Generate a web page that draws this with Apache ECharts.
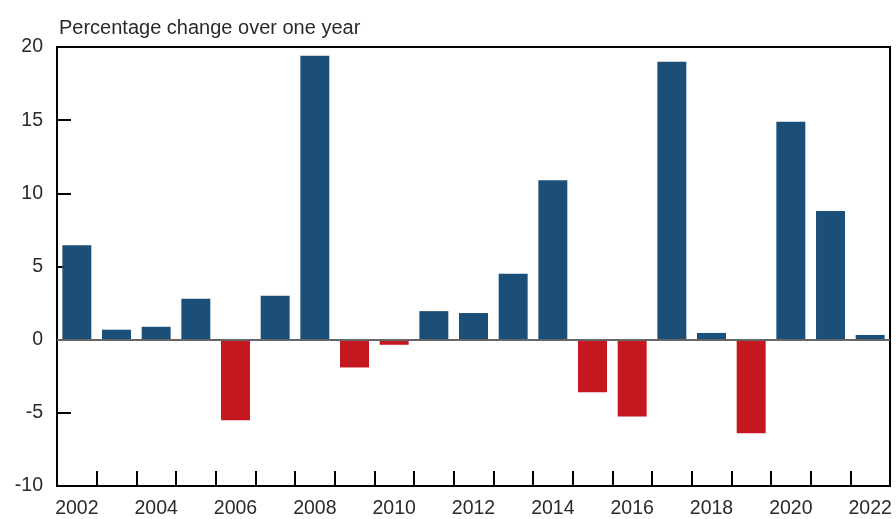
<!DOCTYPE html>
<html>
<head>
<meta charset="utf-8">
<script src="https://cdn.jsdelivr.net/npm/echarts@6/dist/echarts.min.js"></script>
<style>html,body{margin:0;padding:0;background:#fff;overflow:hidden;width:896px;height:519px;}#c{position:absolute;left:0;top:0;width:896px;height:519px;}</style>
</head>
<body>
<div id="c"></div>
<script>
const years = ['2002','2003','2004','2005','2006','2007','2008','2009','2010','2011','2012','2013','2014','2015','2016','2017','2018','2019','2020','2021','2022'];
const values = [6.45, 0.68, 0.88, 2.8, -5.5, 3.0, 19.4, -1.9, -0.35, 1.95, 1.82, 4.5, 10.9, -3.6, -5.25, 19.0, 0.46, -6.4, 14.9, 8.8, 0.32];
const yTitle = 'Percentage change over one year';

const chart = echarts.init(document.getElementById('c'), null, {renderer: 'canvas'});
const font = 'Liberation Sans, Arial, Helvetica, sans-serif';
chart.setOption({
  animation: false,
  backgroundColor: '#fff',
  title: {
    text: yTitle, left: 54, top: 13,
    textStyle: {fontFamily: font, fontSize: 20, fontWeight: 'normal', color: '#2a2a2a'}
  },
  grid: {left: 57, right: 6, top: 47, bottom: 31, show: true, borderColor: '#000', borderWidth: 2, backgroundColor: 'transparent'},
  xAxis: {
    type: 'category', data: years, boundaryGap: true,
    axisLine: {show: true, onZero: false, lineStyle: {color: '#000', width: 2}},
    axisTick: {show: true, inside: true, length: 15, interval: 0, lineStyle: {color: '#000', width: 2}},
    axisLabel: {interval: 1, margin: 13, fontFamily: font, fontSize: 19.5, color: '#2a2a2a'}
  },
  yAxis: {
    type: 'value', min: -10, max: 20, interval: 5,
    axisLine: {show: true, lineStyle: {color: '#000', width: 2}},
    axisTick: {show: true, inside: true, length: 14, lineStyle: {color: '#000', width: 2}},
    axisLabel: {margin: 14, fontFamily: font, fontSize: 19.5, color: '#2a2a2a'},
    splitLine: {show: false}
  },
  series: [{
    type: 'bar', data: values, barCategoryGap: '27%',
    itemStyle: {color: p => p.value < 0 ? '#c4171f' : '#1c4f78'},
    markLine: {
      silent: true, symbol: 'none', label: {show: false},
      lineStyle: {color: '#666', width: 2, type: 'solid'},
      data: [{yAxis: 0}]
    }
  }]
});
</script>
</body>
</html>
